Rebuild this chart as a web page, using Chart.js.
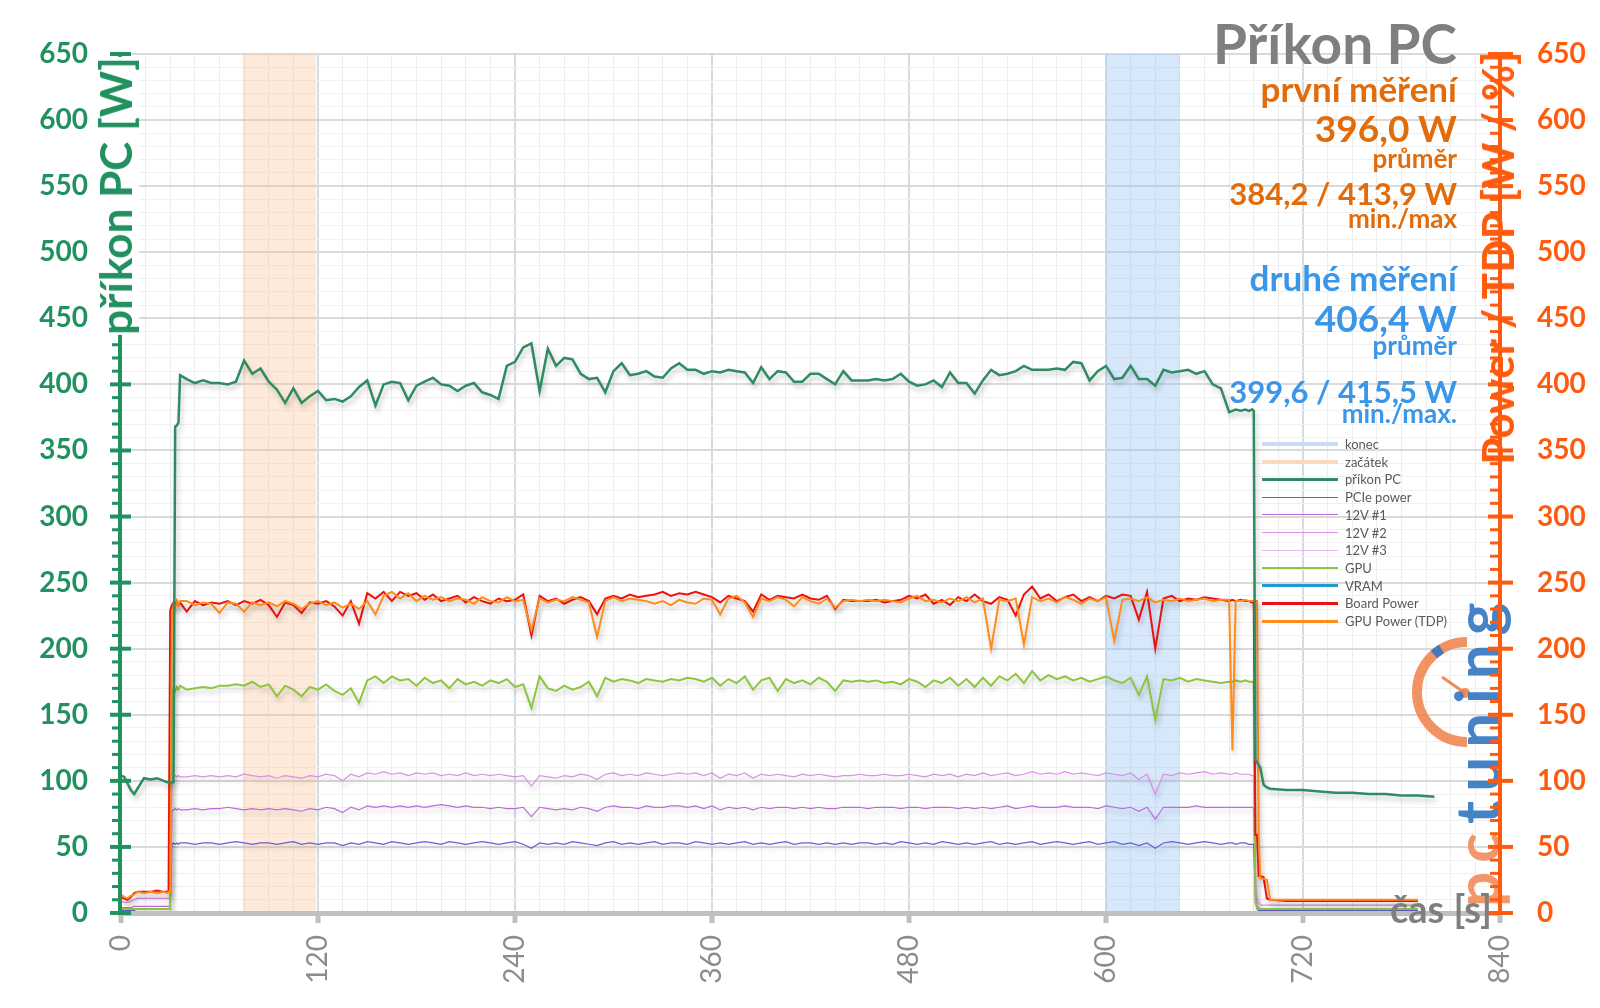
<!DOCTYPE html>
<html lang="cs">
<head>
<meta charset="utf-8">
<title>Příkon PC</title>
<script src="https://cdn.jsdelivr.net/npm/chart.js@4.4.1/dist/chart.umd.min.js"></script>
<style>
  html, body { margin: 0; padding: 0; background: #fff; }
  #wrap { position: relative; width: 1600px; height: 1008px; overflow: hidden; font-family: Lato, 'Open Sans', sans-serif; }
  #chart { position: absolute; left: 0; top: 0; }
  .note { position: absolute; right: 143px; font-weight: 700; line-height: 1; white-space: nowrap; text-align: right; }
  .orange { color: #e36c0a; }
  .blue { color: #3a96e8; }
  .axis-title { position: absolute; font-weight: 700; line-height: 1; white-space: nowrap; background: #fff; padding: 2px 0;
                transform: translate(-50%, -50%) rotate(-90deg); }
  #legend { position: absolute; left: 1262px; top: 435px; font-size: 13px; color: #595959; }
  .lg-row { position: absolute; left: 0; height: 18px; white-space: nowrap; }
  .lg-line { position: absolute; left: 0; width: 76px; }
  .lg-text { position: absolute; left: 83px; top: 0; line-height: 18px; }
</style>
</head>
<body>
<div id="wrap">
  <canvas id="chart" width="1600" height="1008"></canvas>

  <div class="note" style="top:16px; font-size:55px; color:#7f7f7f;">Příkon PC</div>
  <div class="note orange" style="top:71px; font-size:35px;">první měření</div>
  <div class="note orange" style="top:109px; font-size:37px;">396,0 W</div>
  <div class="note orange" style="top:145px; font-size:26px;">průměr</div>
  <div class="note orange" style="top:178px; font-size:31px;">384,2 / 413,9 W</div>
  <div class="note orange" style="top:205px; font-size:26px;">min./max</div>
  <div class="note blue" style="top:260px; font-size:35px;">druhé měření</div>
  <div class="note blue" style="top:299px; font-size:37px;">406,4 W</div>
  <div class="note blue" style="top:332px; font-size:26px;">průměr</div>
  <div class="note blue" style="top:376px; font-size:31px;">399,6 / 415,5 W</div>
  <div class="note blue" style="top:400px; font-size:26px;">min./max.</div>

  <div class="axis-title" style="left:115px; top:196px; font-size:44px; color:#21915f;">příkon PC [W]</div>
  <div class="axis-title" style="left:1497px; top:258px; font-size:44px; color:#ff5b0f; background:transparent;">Power / TDP [W / %]</div>
  <div style="position:absolute; left:1390px; top:889px; font-size:38px; font-weight:700; color:#7f7f7f; line-height:1;">čas [s]</div>

  <div id="legend"></div>
</div>

<script>
// time axis (s), shared by most series
const timeS = [
  0, 2, 4, 6, 8, 10, 14, 18, 22, 26, 28, 29, 30, 31, 32, 33, 34, 35, 36,
  40, 45, 50, 55, 60, 65, 70, 75, 80, 85,
  90, 95, 100, 105, 110, 115, 120, 125, 130, 135,
  140, 145, 150, 155, 160, 165, 170, 175, 180, 185,
  190, 195, 200, 205, 210, 215, 220, 225, 230, 235,
  240, 245, 250, 255, 260, 265, 270, 275, 280, 285,
  290, 295, 300, 305, 310, 315, 320, 325, 330, 335,
  340, 345, 350, 355, 360, 365, 370, 375, 380, 385,
  390, 395, 400, 405, 410, 415, 420, 425, 430, 435,
  440, 445, 450, 455, 460, 465, 470, 475, 480, 485,
  490, 495, 500, 505, 510, 515, 520, 525, 530, 535,
  540, 545, 550, 555, 560, 565, 570, 575, 580, 585,
  590, 595, 600, 605, 610, 615, 620, 625, 630, 635,
  640, 645, 650, 655, 660, 665, 670, 675,
  677, 679, 682, 685, 687, 689, 690, 691, 692, 693, 694, 696, 698, 700,
  710, 720, 730, 740, 750, 760, 770, 780, 790, 800
];

// příkon PC [W]
const pcPowerW = [
  104, 103, 98, 93, 90, 94, 102, 101, 102, 100, 99, 99, 98, 99, 99, 368, 369, 371, 407,
  404, 401, 403, 401, 401, 400, 402, 418, 408, 412,
  402, 396, 386, 397, 386, 391, 395, 388, 389, 387,
  391, 398, 403, 384, 400, 402, 401, 388, 399, 402,
  405, 400, 399, 395, 399, 401, 394, 392, 389, 414,
  417, 428, 431, 395, 427, 414, 420, 419, 408, 404,
  405, 394, 410, 416, 407, 408, 410, 406, 405, 412,
  416, 411, 411, 408, 410, 409, 411, 410, 409, 401,
  413, 404, 410, 409, 402, 402, 408, 408, 404, 400,
  410, 403, 403, 403, 404, 403, 404, 408, 402, 399,
  400, 403, 398, 409, 401, 401, 393, 403, 411, 407,
  408, 410, 414, 411, 411, 411, 412, 411, 417, 416,
  403, 410, 414, 404, 405, 414, 404, 404, 399, 411,
  409, 410, 411, 408, 410, 400, 397, 379,
  380, 381, 380, 381, 380, 381, 380, 116, 114, 112, 110, 97, 95, 94,
  93, 93, 92, 91, 91, 90, 90, 89, 89, 88
];

// Board Power [W]
const boardPowerW = [
  12, 11, 10, 12, 15, 16, 16, 16, 17, 16, 16, 17, 229, 233, 235, 232, 236, 233, 235,
  228, 236, 233, 235, 234, 236, 233, 236, 234, 237,
  233, 224, 235, 233, 227, 235, 234, 236, 232, 225,
  236, 219, 242, 238, 243, 236, 243, 240, 242, 237,
  241, 236, 238, 240, 235, 239, 236, 234, 238, 236,
  237, 241, 210, 240, 236, 238, 234, 237, 239, 236,
  226, 238, 240, 238, 241, 239, 240, 241, 243, 240,
  242, 241, 243, 241, 239, 235, 240, 238, 236, 228,
  241, 237, 240, 239, 238, 241, 238, 237, 240, 230,
  237, 236, 236, 236, 237, 235, 236, 237, 240, 238,
  241, 234, 237, 233, 239, 236, 241, 236, 234, 239,
  237, 225, 241, 247, 238, 241, 236, 239, 241, 236,
  239, 236, 240, 238, 241, 240, 222, 243, 200, 238,
  240, 236, 238, 237, 239, 238, 237, 236,
  237, 236, 237, 236, 236, 235, 235, 59, 59, 28, 28, 27, 11, 10,
  9, 9, 9, 9, 9, 9, 9, 9, 9, null
];

// GPU Power (TDP) [W]
const gpuTdpW = [
  14, 12, 11, 13, 14, 16, 15, 16, 15, 16, 15, 16, 16, 226, 233, 231, 236, 233, 236,
  236, 233, 235, 234, 227, 235, 234, 228, 235, 233,
  235, 232, 236, 234, 230, 234, 236, 233, 235, 231,
  234, 230, 236, 226, 240, 243, 238, 242, 236, 240,
  237, 239, 236, 238, 237, 234, 239, 236, 235, 239,
  236, 237, 214, 238, 235, 237, 236, 239, 237, 235,
  209, 236, 239, 236, 238, 237, 236, 234, 236, 233,
  237, 235, 234, 238, 237, 226, 238, 240, 235, 224,
  238, 236, 239, 237, 232, 239, 236, 234, 238, 231,
  236, 237, 236, 237, 236, 237, 236, 235, 238, 240,
  236, 237, 235, 238, 236, 239, 235, 238, 200, 237,
  236, 238, 203, 239, 236, 238, 235, 239, 237, 234,
  238, 236, 239, 206, 237, 238, 236, 239, 235, 237,
  236, 238, 236, 237, 238, 236, 237, 237,
  123, 236, 236, 237, 236, 236, 236, 236, 236, 60, 26, 26, 25, 10,
  10, 10, 10, 10, 10, 10, 10, 10, 10, null
];

// GPU [W]
const gpuCoreW = [
  3, 3, 3, 3, 3, 3, 3, 3, 3, 3, 3, 3, 3, 166, 170, 168, 171, 169, 172,
  169, 170, 171, 170, 172, 172, 173, 172, 175, 171,
  173, 164, 172, 169, 164, 171, 169, 173, 168, 165,
  170, 159, 176, 179, 174, 179, 176, 177, 172, 178,
  174, 176, 170, 177, 173, 175, 172, 176, 174, 177,
  171, 173, 155, 179, 170, 168, 172, 169, 171, 175,
  164, 178, 175, 177, 176, 174, 177, 176, 175, 177,
  176, 178, 177, 175, 178, 172, 177, 174, 179, 169,
  176, 178, 168, 177, 174, 176, 173, 178, 175, 168,
  176, 175, 176, 175, 176, 174, 175, 173, 177, 175,
  171, 176, 174, 178, 172, 177, 171, 178, 172, 179,
  176, 181, 174, 183, 176, 180, 177, 179, 176, 178,
  175, 177, 179, 176, 174, 178, 165, 179, 146, 177,
  176, 178, 175, 177, 176, 175, 174, 175,
  175, 176, 175, 176, 175, 175, 174, 8, 4, 3, 3, 3, 3, 3,
  3, 3, 3, 3, 3, 3, 3, 3, 3, null
];

// 12V #2 [W]
const rail2W = [
  9, 8, 8, 9, 10, 11, 11, 11, 11, 11, 11, 11, 11, 101, 103, 104, 103, 104, 103,
  103, 104, 103, 104, 103, 104, 103, 105, 104, 103,
  104, 102, 104, 103, 102, 104, 103, 105, 104, 100,
  105, 103, 106, 105, 107, 105, 106, 104, 106, 105,
  106, 104, 105, 104, 106, 104, 105, 104, 105, 104,
  103, 104, 96, 104, 103, 102, 104, 103, 105, 104,
  101, 105, 106, 104, 105, 104, 106, 105, 104, 105,
  106, 105, 106, 104, 106, 102, 105, 104, 106, 102,
  105, 104, 105, 104, 103, 105, 104, 105, 104, 103,
  104, 104, 105, 104, 104, 105, 104, 104, 105, 104,
  103, 105, 104, 105, 103, 105, 104, 106, 104, 105,
  106, 104, 105, 107, 105, 106, 105, 107, 105, 106,
  105, 104, 106, 105, 104, 106, 101, 105, 90, 105,
  104, 106, 105, 106, 107, 105, 106, 105,
  105, 106, 105, 105, 105, 104, 104, 30, 12, 8, 6, 6, 6, 6,
  6, 6, 6, 6, 6, 6, 6, 6, 6, null
];

// 12V #1 [W]
const rail1W = [
  4, 4, 4, 4, 5, 5, 5, 5, 5, 5, 5, 5, 5, 77, 78, 79, 78, 79, 78,
  78, 79, 78, 79, 79, 80, 79, 78, 79, 78,
  79, 78, 79, 78, 77, 79, 78, 80, 79, 76,
  80, 78, 81, 80, 81, 80, 81, 80, 81, 80,
  81, 82, 81, 80, 81, 80, 80, 79, 80, 79,
  79, 80, 73, 80, 79, 78, 79, 78, 80, 79,
  77, 80, 81, 80, 80, 79, 81, 80, 80, 81,
  81, 80, 81, 79, 81, 78, 80, 79, 80, 78,
  80, 79, 80, 80, 79, 80, 79, 80, 79, 79,
  80, 80, 80, 79, 80, 80, 80, 79, 80, 80,
  79, 80, 80, 80, 79, 80, 79, 80, 79, 80,
  81, 79, 80, 81, 80, 80, 80, 81, 80, 80,
  80, 79, 81, 80, 79, 80, 77, 80, 71, 80,
  80, 80, 80, 81, 80, 80, 80, 80,
  80, 80, 80, 80, 80, 80, 79, 20, 6, 4, 3, 3, 3, 3,
  3, 3, 3, 3, 3, 3, 3, 3, 3, null
];

// PCIe power [W]
const pcieW = [
  2, 2, 2, 2, 2, 3, 3, 3, 3, 3, 3, 3, 3, 52, 53, 52, 53, 52, 53,
  53, 52, 53, 53, 52, 53, 54, 53, 52, 53,
  53, 52, 53, 54, 52, 53, 52, 53, 53, 51,
  53, 52, 54, 53, 52, 54, 53, 52, 53, 54,
  53, 52, 54, 53, 52, 53, 54, 53, 52, 53,
  54, 52, 49, 53, 52, 53, 52, 54, 53, 52,
  51, 53, 54, 52, 53, 52, 53, 54, 52, 53,
  53, 52, 54, 53, 52, 53, 52, 53, 54, 52,
  53, 52, 53, 54, 52, 53, 53, 52, 53, 52,
  53, 52, 53, 53, 52, 53, 52, 54, 53, 52,
  53, 52, 54, 53, 52, 53, 52, 53, 54, 52,
  53, 52, 53, 54, 52, 53, 54, 53, 52, 53,
  54, 52, 53, 54, 52, 53, 51, 53, 49, 53,
  54, 53, 52, 53, 54, 53, 52, 53,
  53, 52, 53, 53, 52, 52, 52, 10, 3, 2, 2, 2, 2, 2,
  2, 2, 2, 2, 2, 2, 2, 2, 2, null
];

// sparse series lying on the time axis
const vramS = [0, 790];
const vramW = [0, 0];
const rail3S = [0, 790];
const rail3W = [0, 0];

// measurement windows
const startBandS = [74, 119];
const endBandS = [600, 645];
const bandTopW = [650, 650];

// axis ticks
const xMax = 840, xStep = 15, xLabelStep = 120;
const yMax = 650, yStep = 10, yLabelStep = 50;

const GREEN = '#21915f';
const ORANGE = '#ff5b0f';

function pts(values, times) {
  times = times || timeS;
  return values.map((v, i) => ({ x: times[i], y: v }));
}

function line(label, values, color, width, order, legendWidth, times) {
  return {
    label, data: pts(values, times), borderColor: color, backgroundColor: color,
    borderWidth: width, pointRadius: 0, tension: 0, fill: false, order, legendWidth
  };
}

function band(label, times, fillColor, legendColor) {
  return {
    label, data: pts(bandTopW, times), borderWidth: 0, borderColor: legendColor,
    backgroundColor: fillColor, pointRadius: 0, fill: 'origin', order: 100,
    isBand: true, legendWidth: 4
  };
}

const datasets = [
  band('konec', endBandS, 'rgba(150,195,245,0.38)', '#c9dcf3'),
  band('začátek', startBandS, 'rgba(250,190,140,0.32)', '#fbd9bd'),
  line('příkon PC', pcPowerW, '#2e8b62', 2.5, 10, 3),
  line('PCIe power', pcieW, '#6a5fd8', 1.2, 50, 1),
  line('12V #1', rail1W, '#c06ad8', 1.2, 45, 1),
  line('12V #2', rail2W, '#dc8ee8', 1.2, 40, 1),
  line('12V #3', rail3W, '#ecb6f2', 1, 60, 1, rail3S),
  line('GPU', gpuCoreW, '#8cc63f', 2, 30, 2),
  line('VRAM', vramW, '#1f9ccf', 2, 55, 3, vramS),
  line('Board Power', boardPowerW, '#f01010', 2, 20, 3),
  line('GPU Power (TDP)', gpuTdpW, '#ff8c1a', 2, 15, 3)
];

// soft drop shadow under the lines, like the original
const lineShadow = {
  id: 'lineShadow',
  beforeDatasetDraw(chart, args) {
    const ctx = chart.ctx;
    ctx.save();
    if (!chart.data.datasets[args.index].isBand) {
      ctx.shadowColor = 'rgba(0,0,0,0.22)';
      ctx.shadowBlur = 5;
      ctx.shadowOffsetX = 2;
      ctx.shadowOffsetY = 4;
    }
  },
  afterDatasetDraw(chart) {
    chart.ctx.restore();
  }
};

function drawLogo(ctx) {
  ctx.save();
  const cx = 1467, cy = 692, r = 50;
  ctx.lineWidth = 10;
  ctx.strokeStyle = 'rgba(240,128,72,0.85)';
  ctx.beginPath();
  ctx.arc(cx, cy, r, Math.PI / 2, Math.PI * 1.5);
  ctx.stroke();
  ctx.strokeStyle = 'rgba(55,118,195,0.9)';
  ctx.beginPath();
  ctx.arc(cx, cy, r, Math.PI * 1.27, Math.PI * 1.33);
  ctx.stroke();
  ctx.strokeStyle = 'rgba(240,128,72,0.9)';
  ctx.lineWidth = 3;
  ctx.beginPath();
  ctx.moveTo(cx - 2, cy + 1);
  ctx.lineTo(cx - 25, cy - 15);
  ctx.stroke();
  ctx.fillStyle = 'rgba(240,128,72,0.9)';
  ctx.beginPath();
  ctx.arc(cx - 2, cy + 1, 5, 0, Math.PI * 2);
  ctx.fill();

  ctx.translate(1500, 907);
  ctx.rotate(-Math.PI / 2);
  ctx.font = '700 62px Lato';
  ctx.letterSpacing = '9px';
  ctx.textAlign = 'left';
  ctx.textBaseline = 'alphabetic';
  ctx.fillStyle = 'rgba(240,140,90,0.9)';
  ctx.fillText('pc', 0, 0);
  const w = ctx.measureText('pc').width;
  ctx.fillStyle = 'rgba(50,118,192,0.9)';
  ctx.fillText('tuning', w, 0);
  ctx.restore();
}

// axis lines and tick marks drawn like the Excel original
const axisDecor = {
  id: 'axisDecor',
  beforeDatasetsDraw(chart) {
    drawLogo(chart.ctx);
  },
  afterDatasetsDraw(chart) {
    const { ctx, chartArea: a, scales } = chart;
    ctx.save();

    ctx.fillStyle = '#bfbfbf';
    ctx.fillRect(a.left - 3, a.bottom - 2, a.right - a.left + 5, 5);
    scales.x.ticks.forEach(t => {
      if (t.value % xLabelStep !== 0) return;
      const px = scales.x.getPixelForValue(t.value);
      ctx.fillRect(px - 2.5, a.bottom, 5, 10);
    });

    ctx.fillStyle = GREEN;
    ctx.fillRect(a.left - 3, a.top - 2, 4, a.bottom - a.top + 4);
    scales.y.ticks.forEach(t => {
      const py = scales.y.getPixelForValue(t.value);
      if (t.value % yLabelStep === 0) ctx.fillRect(a.left - 11, py - 2, 21, 4);
      else ctx.fillRect(a.left - 9, py - 1.5, 8, 3);
    });

    ctx.fillStyle = ORANGE;
    ctx.fillRect(a.right - 2, a.top - 2, 4, a.bottom - a.top + 4);
    scales.y2.ticks.forEach(t => {
      const py = scales.y2.getPixelForValue(t.value);
      if (t.value % yLabelStep === 0) ctx.fillRect(a.right - 12, py - 2, 25, 4);
      else ctx.fillRect(a.right - 10, py - 1.5, 10, 3);
    });
    ctx.restore();
  }
};

const yTicks = (color) => ({
  stepSize: yStep,
  autoSkip: false,
  color,
  font: { family: 'Lato', size: 28, weight: '700' },
  callback: v => (v % yLabelStep === 0 ? String(v) : '')
});

const chart = new Chart(document.getElementById('chart').getContext('2d'), {
  type: 'line',
  data: { datasets },
  options: {
    responsive: false,
    devicePixelRatio: 1,
    animation: false,
    events: [],
    layout: { padding: { top: 54, left: 0, right: 0, bottom: 0 } },
    plugins: { legend: { display: false }, tooltip: { enabled: false } },
    scales: {
      x: {
        type: 'linear',
        min: 0,
        max: xMax,
        afterFit: s => { s.height = 95; },
        border: { display: false },
        grid: {
          drawTicks: false,
          color: c => (c.tick.value % xLabelStep === 0 ? '#d3dbe5' : '#ececec'),
          lineWidth: c => (c.tick.value % xLabelStep === 0 ? 2 : 1)
        },
        ticks: {
          stepSize: xStep,
          autoSkip: false,
          minRotation: 90,
          maxRotation: 90,
          padding: 22,
          color: '#8c8c8c',
          font: { family: 'Lato', size: 28 },
          callback: v => (v % xLabelStep === 0 ? String(v) : '')
        }
      },
      y: {
        position: 'left',
        min: 0,
        max: yMax,
        afterFit: s => { s.width = 121; },
        border: { display: false },
        grid: {
          drawTicks: false,
          color: c => (c.tick.value % yLabelStep === 0 ? '#dadada' : '#f0f0f0'),
          lineWidth: c => (c.tick.value % yLabelStep === 0 ? 2 : 1)
        },
        ticks: Object.assign(yTicks(GREEN), { padding: 33 })
      },
      y2: {
        position: 'right',
        min: 0,
        max: yMax,
        afterFit: s => { s.width = 100; },
        border: { display: false },
        grid: { drawOnChartArea: false, drawTicks: false },
        ticks: Object.assign(yTicks(ORANGE), { padding: 37 })
      }
    }
  },
  plugins: [lineShadow, axisDecor]
});

// legend built from the chart's datasets
const legendEl = document.getElementById('legend');
chart.data.datasets.forEach((ds, i) => {
  const row = document.createElement('div');
  row.className = 'lg-row';
  row.style.top = (i * 17.7) + 'px';
  const ln = document.createElement('span');
  ln.className = 'lg-line';
  ln.style.background = ds.borderColor;
  ln.style.height = ds.legendWidth + 'px';
  ln.style.top = (9 - ds.legendWidth / 2) + 'px';
  const tx = document.createElement('span');
  tx.className = 'lg-text';
  tx.textContent = ds.label;
  row.appendChild(ln);
  row.appendChild(tx);
  legendEl.appendChild(row);
});
</script>
</body>
</html>
